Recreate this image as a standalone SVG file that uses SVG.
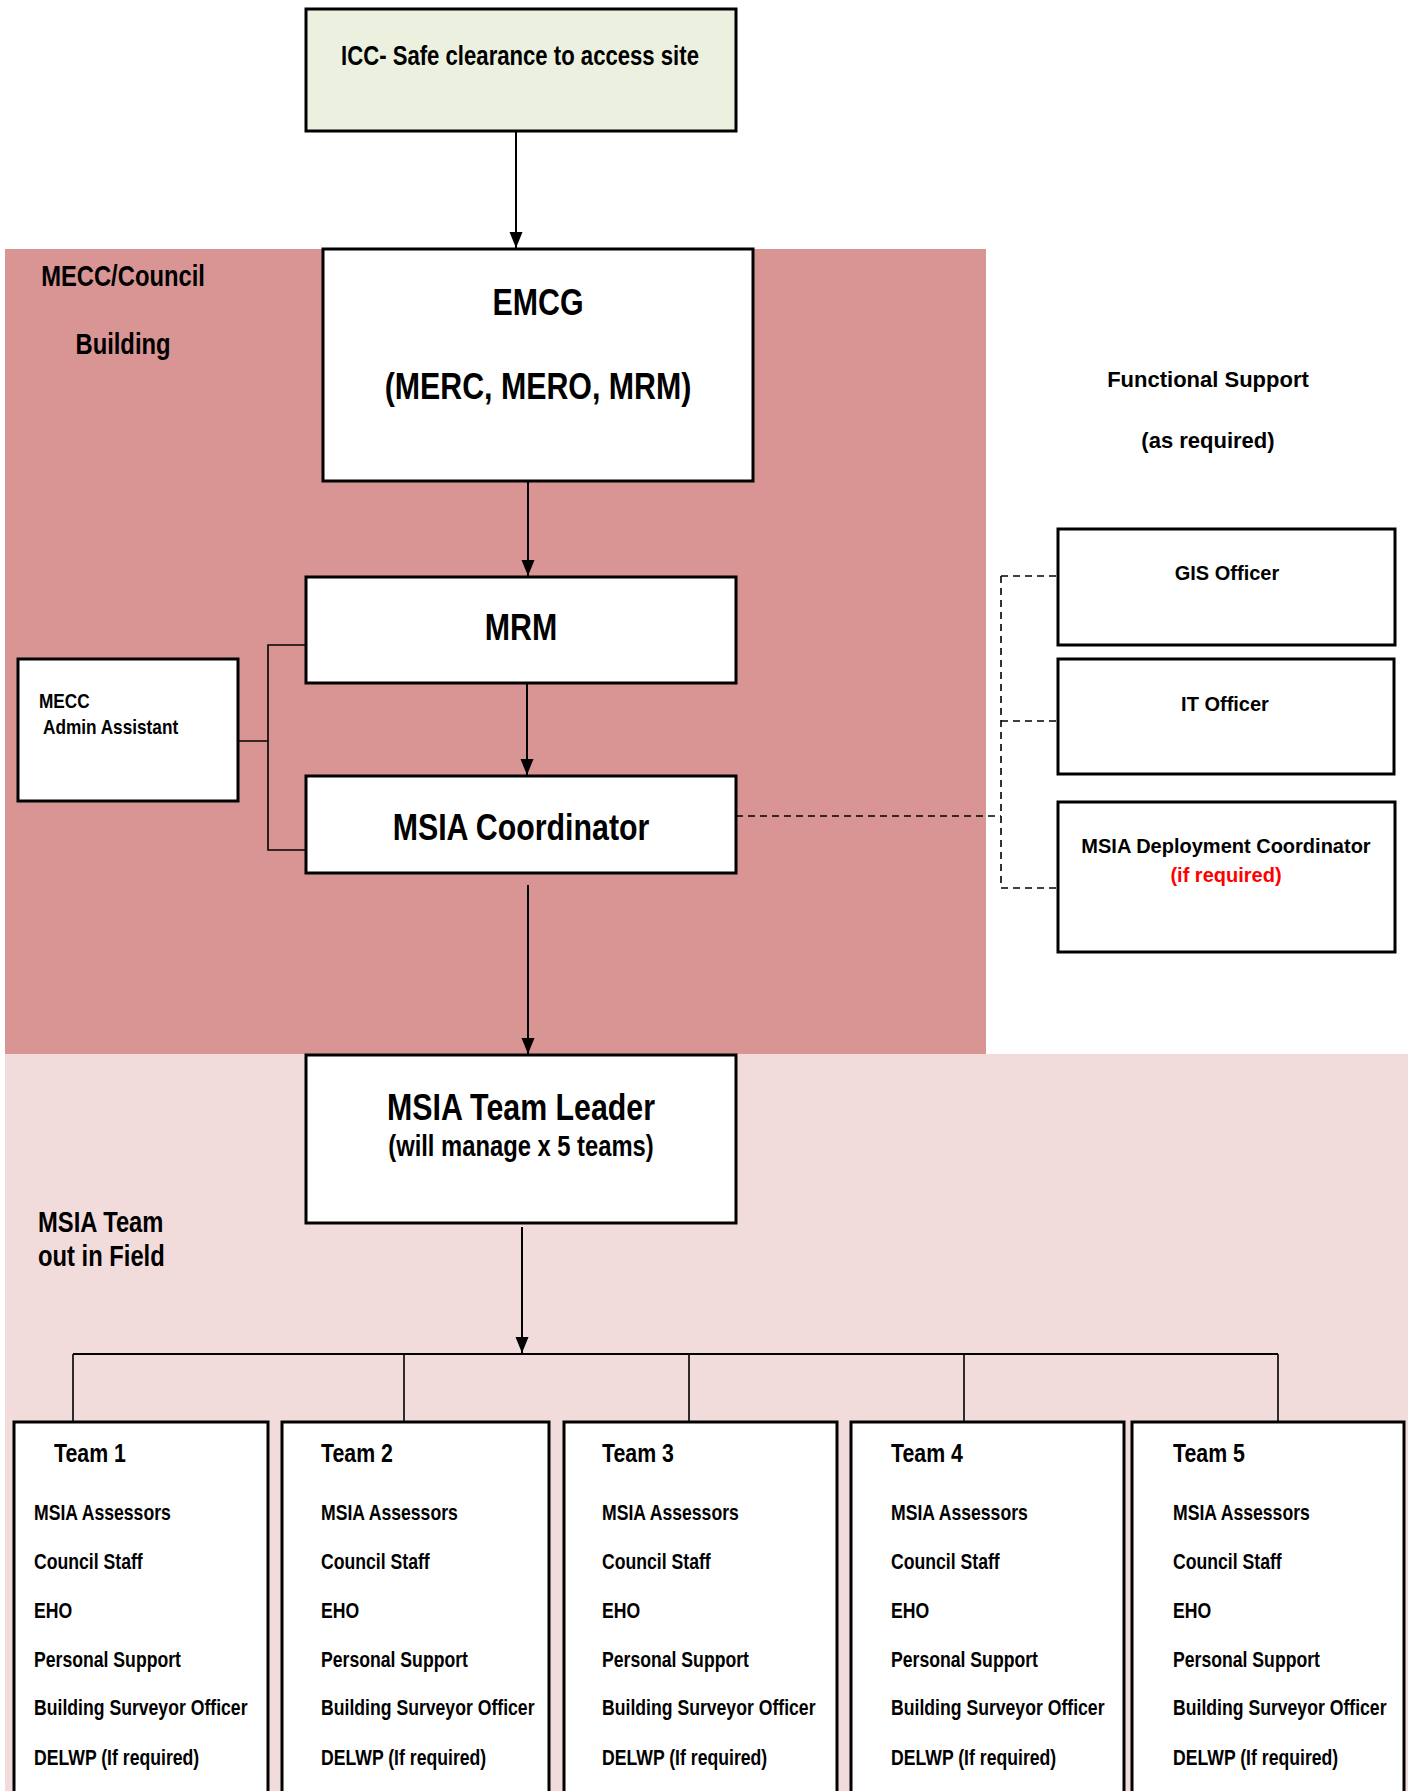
<svg xmlns="http://www.w3.org/2000/svg" width="1413" height="1791" viewBox="0 0 1413 1791">
<style>
.box{fill:#fff;stroke:#000;stroke-width:3}
.n{font-family:"Liberation Sans",Arial,sans-serif;font-weight:bold;fill:#000}
.w{font-family:"Liberation Sans",Arial,sans-serif;font-weight:bold;fill:#000}
.c{text-anchor:middle}
.ln{fill:none;stroke:#000;stroke-width:2}
.thin{fill:none;stroke:#000;stroke-width:1.6}
.dash{fill:none;stroke:#000;stroke-width:1.6;stroke-dasharray:7,5}
.item{font-size:21.5px}
.team{font-size:26px}
</style>
<defs>
<marker id="ah" markerWidth="16" markerHeight="16" refX="16" refY="8" orient="auto" markerUnits="userSpaceOnUse">
<path d="M0,1.5 L16,8 L0,14.5 Z" fill="#000"/>
</marker>
</defs>
<rect x="0" y="0" width="1413" height="1791" fill="#fff"/>
<rect x="5" y="249" width="981" height="805" fill="#d99594"/>
<rect x="5" y="1054" width="1403" height="737" fill="#f2dcdb"/>
<text class="n c" transform="translate(123,286) scale(0.82,1)" font-size="29">MECC/Council</text>
<text class="n c" transform="translate(123,354) scale(0.82,1)" font-size="29">Building</text>
<text class="n" transform="translate(38,1232) scale(0.82,1)" font-size="29">MSIA Team</text>
<text class="n" transform="translate(38,1266) scale(0.82,1)" font-size="29">out in Field</text>
<text class="w c" x="1208" y="387" font-size="22">Functional Support</text>
<text class="w c" x="1208" y="448" font-size="22">(as required)</text>

<g id="connectors">
<line class="ln" x1="516" y1="131" x2="516" y2="248" marker-end="url(#ah)"/>
<line class="ln" x1="528" y1="481" x2="528" y2="576" marker-end="url(#ah)"/>
<line class="ln" x1="527" y1="683" x2="527" y2="775" marker-end="url(#ah)"/>
<line class="ln" x1="528" y1="885" x2="528" y2="1054" marker-end="url(#ah)"/>
<line class="ln" x1="522" y1="1227" x2="522" y2="1353" marker-end="url(#ah)"/>
<path class="thin" d="M306,645 H268 V850 H306 M238,741 H268"/>
<path class="ln" d="M73,1354 H1278"/>
<path class="thin" d="M73,1354 V1422 M404,1354 V1422 M689,1354 V1422 M964,1354 V1422 M1278,1354 V1422"/>
<path class="dash" d="M736,816 H1001 M1001,576 V888 M1001,576 H1058 M1001,721 H1058 M1001,888 H1058"/>
</g>

<g id="icc">
<rect x="306" y="9" width="430" height="122" fill="#ebf1de" stroke="#000" stroke-width="3"/>
<text class="n c" transform="translate(520,65) scale(0.82,1)" font-size="27">ICC- Safe clearance to access site</text>
</g>
<g id="emcg">
<rect class="box" x="323" y="249" width="430" height="232"/>
<text class="n c" transform="translate(538,315) scale(0.82,1)" font-size="37">EMCG</text>
<text class="n c" transform="translate(538,399) scale(0.82,1)" font-size="37">(MERC, MERO, MRM)</text>
</g>
<g id="mrm">
<rect class="box" x="306" y="577" width="430" height="106"/>
<text class="n c" transform="translate(521,640) scale(0.82,1)" font-size="37">MRM</text>
</g>
<g id="msia-coordinator">
<rect class="box" x="306" y="776" width="430" height="97"/>
<text class="n c" transform="translate(521,840) scale(0.82,1)" font-size="37">MSIA Coordinator</text>
</g>
<g id="mecc-admin">
<rect class="box" x="18" y="659" width="220" height="142"/>
<text class="n" transform="translate(39,708) scale(0.82,1)" font-size="21">MECC</text>
<text class="n" transform="translate(43,734) scale(0.82,1)" font-size="21">Admin Assistant</text>
</g>
<g id="gis">
<rect class="box" x="1058" y="529" width="337" height="116"/>
<text class="w c" x="1227" y="580" font-size="20">GIS Officer</text>
</g>
<g id="it">
<rect class="box" x="1058" y="659" width="336" height="115"/>
<text class="w c" x="1225" y="711" font-size="20">IT Officer</text>
</g>
<g id="deployment">
<rect class="box" x="1058" y="802" width="337" height="150"/>
<text class="w c" x="1226" y="853" font-size="20">MSIA Deployment Coordinator</text>
<text class="w c" x="1226" y="882" font-size="20" style="fill:#ff0000">(if required)</text>
</g>
<g id="team-leader">
<rect class="box" x="306" y="1055" width="430" height="168"/>
<text class="n c" transform="translate(521,1120) scale(0.82,1)" font-size="37">MSIA Team Leader</text>
<text class="n c" transform="translate(521,1156) scale(0.82,1)" font-size="29">(will manage x 5 teams)</text>
</g>

<g id="team1">
<rect class="box" x="14" y="1422" width="254" height="400"/>
<text class="n team" transform="translate(54,1462) scale(0.82,1)">Team 1</text>
<text class="n item" transform="translate(34,1519.5) scale(0.82,1)">MSIA Assessors</text>
<text class="n item" transform="translate(34,1568.5) scale(0.82,1)">Council Staff</text>
<text class="n item" transform="translate(34,1617.5) scale(0.82,1)">EHO</text>
<text class="n item" transform="translate(34,1666.5) scale(0.82,1)">Personal Support</text>
<text class="n item" transform="translate(34,1714.5) scale(0.82,1)">Building Surveyor Officer</text>
<text class="n item" transform="translate(34,1764.5) scale(0.82,1)">DELWP (If required)</text>
</g>
<g id="team2">
<rect class="box" x="282" y="1422" width="267" height="400"/>
<text class="n team" transform="translate(321,1462) scale(0.82,1)">Team 2</text>
<text class="n item" transform="translate(321,1519.5) scale(0.82,1)">MSIA Assessors</text>
<text class="n item" transform="translate(321,1568.5) scale(0.82,1)">Council Staff</text>
<text class="n item" transform="translate(321,1617.5) scale(0.82,1)">EHO</text>
<text class="n item" transform="translate(321,1666.5) scale(0.82,1)">Personal Support</text>
<text class="n item" transform="translate(321,1714.5) scale(0.82,1)">Building Surveyor Officer</text>
<text class="n item" transform="translate(321,1764.5) scale(0.82,1)">DELWP (If required)</text>
</g>
<g id="team3">
<rect class="box" x="564" y="1422" width="273" height="400"/>
<text class="n team" transform="translate(602,1462) scale(0.82,1)">Team 3</text>
<text class="n item" transform="translate(602,1519.5) scale(0.82,1)">MSIA Assessors</text>
<text class="n item" transform="translate(602,1568.5) scale(0.82,1)">Council Staff</text>
<text class="n item" transform="translate(602,1617.5) scale(0.82,1)">EHO</text>
<text class="n item" transform="translate(602,1666.5) scale(0.82,1)">Personal Support</text>
<text class="n item" transform="translate(602,1714.5) scale(0.82,1)">Building Surveyor Officer</text>
<text class="n item" transform="translate(602,1764.5) scale(0.82,1)">DELWP (If required)</text>
</g>
<g id="team4">
<rect class="box" x="851" y="1422" width="273" height="400"/>
<text class="n team" transform="translate(891,1462) scale(0.82,1)">Team 4</text>
<text class="n item" transform="translate(891,1519.5) scale(0.82,1)">MSIA Assessors</text>
<text class="n item" transform="translate(891,1568.5) scale(0.82,1)">Council Staff</text>
<text class="n item" transform="translate(891,1617.5) scale(0.82,1)">EHO</text>
<text class="n item" transform="translate(891,1666.5) scale(0.82,1)">Personal Support</text>
<text class="n item" transform="translate(891,1714.5) scale(0.82,1)">Building Surveyor Officer</text>
<text class="n item" transform="translate(891,1764.5) scale(0.82,1)">DELWP (If required)</text>
</g>
<g id="team5">
<rect class="box" x="1132" y="1422" width="272" height="400"/>
<text class="n team" transform="translate(1173,1462) scale(0.82,1)">Team 5</text>
<text class="n item" transform="translate(1173,1519.5) scale(0.82,1)">MSIA Assessors</text>
<text class="n item" transform="translate(1173,1568.5) scale(0.82,1)">Council Staff</text>
<text class="n item" transform="translate(1173,1617.5) scale(0.82,1)">EHO</text>
<text class="n item" transform="translate(1173,1666.5) scale(0.82,1)">Personal Support</text>
<text class="n item" transform="translate(1173,1714.5) scale(0.82,1)">Building Surveyor Officer</text>
<text class="n item" transform="translate(1173,1764.5) scale(0.82,1)">DELWP (If required)</text>
</g>
</svg>
